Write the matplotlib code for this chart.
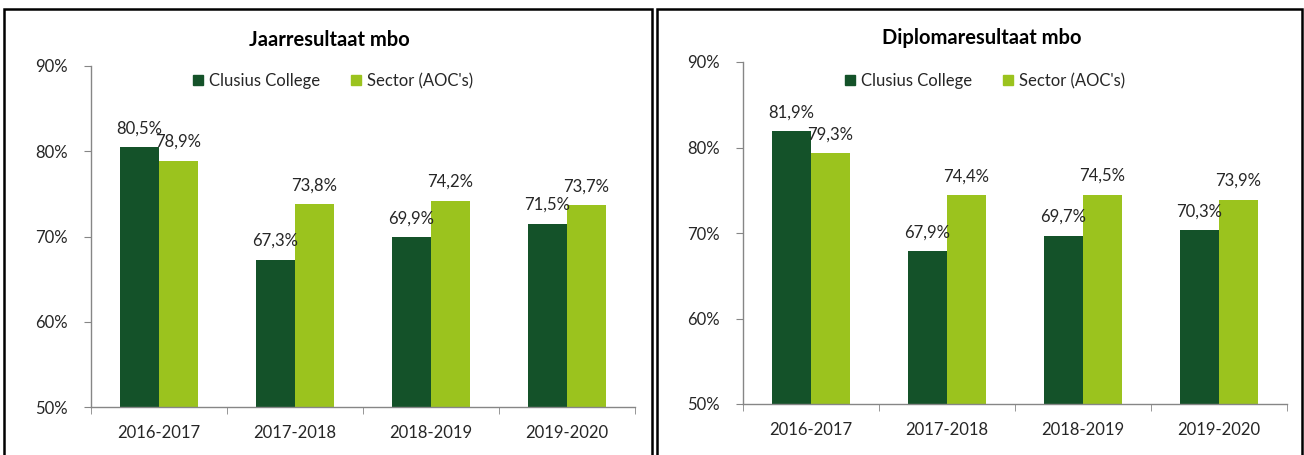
import numpy as np
import matplotlib.pyplot as plt
from matplotlib.patches import Rectangle
from matplotlib.patches import Patch

# data
years = ["2016-2017", "2017-2018", "2018-2019", "2019-2020"]
jaar_clusius = [80.5, 67.3, 69.9, 71.5]
jaar_sector = [78.9, 73.8, 74.2, 73.7]
diploma_clusius = [81.9, 67.9, 69.7, 70.3]
diploma_sector = [79.3, 74.4, 74.5, 73.9]
series_names = ["Clusius College", "Sector (AOC's)"]

dark = "#145229"
light = "#9BC31E"
txt = "#262626"
axcol = "#868686"

plt.rcParams['font.family'] = ['Lato', 'DejaVu Sans']

W, H = 1304, 455
fig = plt.figure(figsize=(W / 100, H / 100), dpi=100)

def px(x0, y0, x1, y1):
    # pixel box -> figure fraction [left, bottom, width, height]
    return [x0 / W, 1 - y1 / H, (x1 - x0) / W, (y1 - y0) / H]

def panel(box, title, title_x, title_y, leg_x, a, b):
    ax = fig.add_axes(box)
    x = np.arange(len(years))
    w = 0.287
    bars1 = ax.bar(x - w / 2, a, w, color=dark, zorder=2)
    bars2 = ax.bar(x + w / 2, b, w, color=light, zorder=2)
    for bars, vals in ((bars1, a), (bars2, b)):
        for r, v in zip(bars, vals):
            ax.annotate(f"{v:.1f}%".replace(".", ","), (r.get_x() + r.get_width() / 2, v),
                        xytext=(0, 13.5), textcoords="offset points",
                        ha="center", va="center", fontsize=12, color=txt)
    ax.set_ylim(50, 90)
    ax.set_xlim(-0.5, len(years) - 0.5)
    ax.set_yticks([50, 60, 70, 80, 90])
    ax.set_yticklabels([f"{t}%" for t in [50, 60, 70, 80, 90]], fontsize=12, color=txt)
    ax.set_xticks(x)
    ax.set_xticklabels(years, fontsize=12, color=txt)
    ax.set_xticks(np.arange(-0.5, len(years)), minor=True)
    ax.tick_params(axis="x", which="major", length=0, pad=13)
    ax.tick_params(axis="x", which="minor", length=5, color=axcol, direction="out")
    ax.tick_params(axis="y", length=5, color=axcol, direction="out", pad=12)
    for s in ("top", "right"):
        ax.spines[s].set_visible(False)
    for s in ("left", "bottom"):
        ax.spines[s].set_color(axcol)
        ax.spines[s].set_linewidth(1)
    ax.set_facecolor("none")
    # title and legend, centred on the outer panel
    fig.text(title_x / W, 1 - title_y / H, title, ha="center", va="center",
             fontsize=14.5, fontweight="bold", color="black")
    handles = [Patch(color=dark), Patch(color=light)]
    fig.legend(handles, series_names, loc="center", bbox_to_anchor=(leg_x / W, 1 - 81 / H),
               ncol=2, frameon=False, fontsize=12, handlelength=0.6, handleheight=0.6,
               handletextpad=0.4, columnspacing=1.8, labelcolor=txt)
    return ax

panel(px(91, 66, 635, 407), "Jaarresultaat mbo", 329, 40, 333, jaar_clusius, jaar_sector)
panel(px(743, 62, 1287, 404), "Diplomaresultaat mbo", 982, 38, 985,
      diploma_clusius, diploma_sector)

# outer panel borders (the bottom edges fall outside the picture)
for x0, x1 in ((4, 652), (657, 1302)):
    fig.add_artist(Rectangle((x0 / W, -0.05), (x1 - x0) / W, 1.05 - 9 / H,
                             transform=fig.transFigure, fill=False,
                             edgecolor="black", linewidth=1.8))

fig.savefig("out.png", dpi=100)
